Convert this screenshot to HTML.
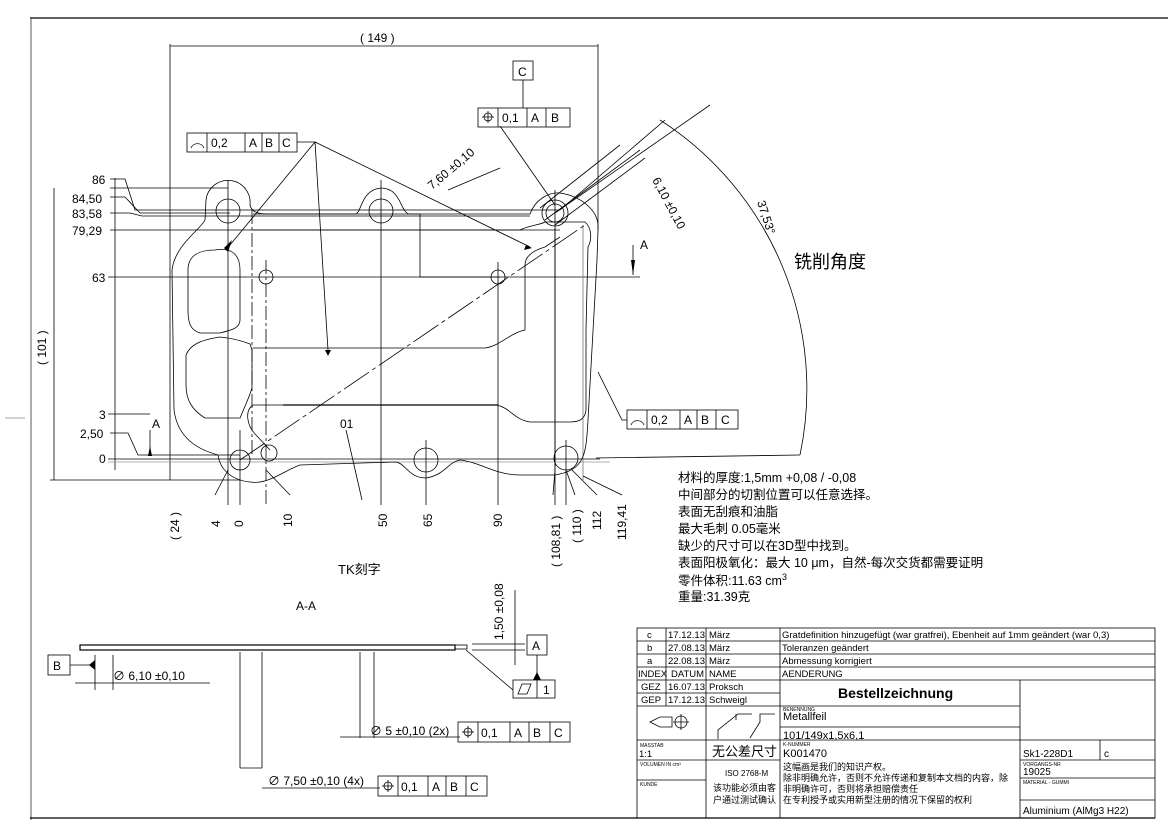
<!DOCTYPE html>
<html><head><meta charset="utf-8"><style>
html,body{margin:0;padding:0;background:#fff;}
svg{display:block;font-family:"Liberation Sans","Noto Sans CJK SC",sans-serif;}
</style></head><body>
<svg width="1168" height="835" viewBox="0 0 1168 835" xmlns="http://www.w3.org/2000/svg">
<g fill="none" stroke="#000" stroke-width="0.8">
<!-- border -->
<line x1="30" y1="18" x2="1168" y2="18" stroke-width="1.2"/>
<line x1="31" y1="19" x2="31" y2="820" stroke="#aaa" stroke-width="2"/>
<line x1="30" y1="818" x2="1155" y2="818" stroke-width="1.2"/>
<line x1="5" y1="418" x2="25" y2="418" stroke="#888"/>

<!-- 149 dim -->
<line x1="170" y1="46" x2="598" y2="46"/>
<line x1="170" y1="44" x2="170" y2="480"/>
<line x1="598" y1="44" x2="598" y2="230"/>
<!-- 101 dim -->
<line x1="54" y1="188" x2="54" y2="480"/>
<line x1="50" y1="480" x2="240" y2="480"/>
<line x1="115" y1="178" x2="115" y2="470"/>
<!-- horizontal reference lines -->
<path d="M110 179 H125 L135 210 H560"/>
<path d="M110 197 H125 L140 213 H230"/>
<path d="M110 213 H130 L142 216 H530"/>
<line x1="110" y1="230" x2="560" y2="230"/>
<line x1="110" y1="188" x2="228" y2="188"/>
<line x1="108" y1="277" x2="640" y2="277"/>
<line x1="108" y1="414" x2="150" y2="414"/>
<path d="M110 433 H128 L138 455 H240"/>
<line x1="108" y1="459" x2="600" y2="459"/>
<line x1="108" y1="462" x2="610" y2="462" stroke="#999"/>
<!-- vertical centerlines -->
<line x1="228" y1="180" x2="228" y2="505"/>
<line x1="240" y1="430" x2="240" y2="505"/>
<line x1="266" y1="260" x2="266" y2="505" stroke-dasharray="14 3 3 3"/>
<line x1="381" y1="180" x2="381" y2="505"/>
<line x1="426" y1="440" x2="426" y2="505"/>
<line x1="498" y1="262" x2="498" y2="505"/>
<line x1="555" y1="190" x2="555" y2="505"/>
<line x1="566" y1="440" x2="566" y2="505"/>
<line x1="252" y1="210" x2="252" y2="455" stroke-dasharray="14 3 3 3"/>
<line x1="555" y1="228" x2="555" y2="470"/>
<line x1="583" y1="225" x2="583" y2="480" stroke="#777"/>
<!-- leaders bottom -->
<path d="M228 470 L215 495"/><path d="M266 470 L290 495"/>
<path d="M566 470 L575 495"/><path d="M572 470 L597 495"/><path d="M583 476 L622 495"/>
<path d="M555 470 L553 495"/>
<!-- step lines -->
<path d="M253 214 H420 V277 H500"/>
<line x1="283" y1="405" x2="498" y2="405" stroke-width="1.2"/>

<!-- part outline -->
<path d="M206 200 A22 22 0 0 1 250 205 C252 214 262 214 270 214 L355 214 C362 214 360 190 381 188 C402 188 400 214 410 214 L530 214 C535 200 548 192 560 193 C580 196 600 210 598 230 L597 260 L588 420 C586 455 585 470 555 475 L520 475 C495 475 480 462 460 460 C448 462 445 475 426 478 C408 478 405 462 395 462 L300 465 C285 470 268 485 250 482 C232 480 220 470 218 455 C200 450 178 440 174 410 L172 270 C175 245 200 230 205 220 Z"/>
<!-- inner pockets -->
<path d="M215 250 C232 247 240 255 240 270 L240 320 C240 328 232 330 220 333 L200 333 C190 330 188 322 188 310 L188 270 C188 255 200 250 215 250 Z"/>
<path d="M220 337 C230 338 240 340 250 344 L252 350 L252 388 C250 395 240 418 240 418 L205 418 C192 410 186 400 186 385 L186 355 C190 345 200 340 220 337 Z"/>
<path d="M253 230 H520 C530 225 540 225 545 222 L585 222 C592 228 592 240 588 247 L586 330 L586 410 C585 420 578 422 570 422 L530 422 C515 420 510 408 497 405"/>
<path d="M253 348 H485 C500 346 510 333 525 330 L525 265 C525 255 535 250 545 247 L560 237"/>
<path d="M253 405 H283 M253 405 C245 410 246 425 256 435 L270 450"/>
<!-- holes -->
<circle cx="228" cy="211" r="12"/><circle cx="381" cy="211" r="12"/><circle cx="555" cy="213" r="13"/><circle cx="555" cy="213" r="9"/>
<circle cx="240" cy="460" r="10"/><circle cx="426" cy="460" r="12"/><circle cx="566" cy="458" r="12"/><circle cx="269" cy="453" r="8"/>
<circle cx="266" cy="277" r="7"/><circle cx="498" cy="277" r="7"/>
<!-- diagonal -->
<line x1="240" y1="460" x2="585" y2="225" stroke-dasharray="30 4 4 4"/>
<line x1="545" y1="220" x2="640" y2="150"/><line x1="555" y1="225" x2="645" y2="158"/>
<line x1="540" y1="208" x2="620" y2="145"/>
<line x1="560" y1="210" x2="665" y2="120"/>
<line x1="555" y1="213" x2="710" y2="105"/>
<!-- arc -->
<path d="M660 120 A320 320 0 0 1 800 455"/>
<line x1="596" y1="458" x2="800" y2="455"/>
<!-- FCF leaders -->
<path d="M297 142 H315 L230 245 M315 142 L328 350 M315 142 L530 247"/>
<path d="M627 420 H622 L598 372"/>
<path d="M523 80 V108 M500 126 L555 205 M448 190 L500 168"/>
<path d="M346 430 L362 500"/>
<path d="M150 430 V455"/>
<path d="M633 245 V275"/>
</g>
<g fill="#000">
<polygon points="148,456 152,456 150,446" />
<polygon points="631,260 635,260 633,275"/>
<polygon points="224,248 232,240 228,252"/>
<polygon points="325,350 331,350 328,356"/>
<polygon points="526,245 532,248 524,250"/>
</g>
<!-- texts -->
<g font-size="12" fill="#000">
<text x="360" y="42">( 149 )</text>
<text x="92" y="184">86</text><text x="72" y="203">84,50</text><text x="72" y="218">83,58</text><text x="72" y="235">79,29</text>
<text x="92" y="282">63</text><text x="99" y="419">3</text><text x="80" y="438">2,50</text><text x="99" y="463">0</text>
<text x="152" y="428">A</text><text x="640" y="249">A</text>
<text x="340" y="428">01</text>
<text transform="translate(46,365) rotate(-90)">( 101 )</text>
<g transform="rotate(-90)">
<text x="-540" y="179">( 24 )</text><text x="-527" y="220">4</text><text x="-527" y="243">0</text>
<text x="-527" y="292">10</text><text x="-527" y="387">50</text><text x="-527" y="432">65</text><text x="-527" y="502">90</text>
<text x="-567" y="560">( 108,81 )</text><text x="-543" y="581">( 110 )</text><text x="-530" y="601">112</text><text x="-540" y="626">119,41</text>
<text x="-640" y="503">1,50 ±0,08</text>
</g>
<text transform="translate(432,190) rotate(-40)">7,60 ±0,10</text>
<text transform="translate(652,180) rotate(62)">6,10 ±0,10</text>
<text transform="translate(757,202) rotate(72)">37,53°</text>
<text x="794" y="268" font-size="18">铣削角度</text>
<text x="338" y="574" font-size="13">TK刻字</text>
<text x="296" y="610">A-A</text>
</g>
<g font-size="12.5" fill="#000">
<text x="678" y="482">材料的厚度:1,5mm +0,08 / -0,08</text>
<text x="678" y="499">中间部分的切割位置可以任意选择。</text>
<text x="678" y="516">表面无刮痕和油脂</text>
<text x="678" y="533">最大毛刺 0.05毫米</text>
<text x="678" y="550">缺少的尺寸可以在3D型中找到。</text>
<text x="678" y="567">表面阳极氧化：最大 10 μm，自然-每次交货都需要证明</text>
<text x="678" y="585">零件体积:11.63 cm<tspan dy="-5" font-size="9">3</tspan></text>
<text x="678" y="601">重量:31.39克</text>
</g>
<!-- FCFs -->
<g fill="none" stroke="#000" stroke-width="0.8">
<rect x="187" y="133" width="110" height="19"/><path d="M207 133V152M245 133V152M262 133V152M279 133V152"/>
<path d="M191 148 A7 7 0 0 1 204 148"/>
<rect x="627" y="410" width="111" height="19"/><path d="M647 410V429M680 410V429M697 410V429M716 410V429"/>
<path d="M631 425 A7 7 0 0 1 644 425"/>
<rect x="513" y="61" width="20" height="19"/>
<rect x="478" y="108" width="92" height="19"/><path d="M498 108V127M527 108V127M546 108V127"/>
<circle cx="488" cy="117" r="4"/><path d="M482 117H494M488 111V123"/>
<!-- A-A section -->
<rect x="80" y="645" width="375" height="5" stroke-width="1.2"/>
<rect x="455" y="645" width="12" height="4"/>
<path d="M472 644H525M472 650H525M515 590V665"/>
<rect x="527" y="635" width="20" height="20"/><path d="M537 655V680"/>
<rect x="513" y="680" width="42" height="18"/><path d="M537 680V698M518 694L522 684H531L527 694Z"/>
<path d="M466 650 L513 690"/>
<rect x="48" y="655" width="22" height="20"/><path d="M70 665H90"/>
<path d="M95 655V690M113 655V690M75 683H210"/>
<path d="M240 652V768M262 652V768M240 768H262"/>
<path d="M360 652V738M374 652V738M340 737H460"/>
<rect x="458" y="722" width="112" height="20"/><path d="M478 722V742M510 722V742M529 722V742M550 722V742"/>
<circle cx="468" cy="732" r="4"/><path d="M462 732H474M468 726V738"/>
<path d="M262 788H380"/>
<rect x="378" y="776" width="109" height="20"/><path d="M398 776V796M428 776V796M446 776V796M466 776V796"/>
<circle cx="388" cy="786" r="4"/><path d="M382 786H394M388 780V792"/>
</g>
<g fill="#000"><polygon points="89,665 95,660 95,670"/><polygon points="533,680 541,680 537,672"/></g>
<g font-size="12" fill="#000">
<text x="211" y="147">0,2</text><text x="249" y="147">A</text><text x="265" y="147">B</text><text x="282" y="147">C</text>
<text x="651" y="424">0,2</text><text x="684" y="424">A</text><text x="701" y="424">B</text><text x="721" y="424">C</text>
<text x="518" y="76">C</text>
<text x="502" y="122">0,1</text><text x="531" y="122">A</text><text x="551" y="122">B</text>
<text x="532" y="650">A</text><text x="543" y="694">1</text>
<text x="53" y="670">B</text>
<text x="113" y="680">∅ 6,10 ±0,10</text>
<text x="370" y="735">∅ 5 ±0,10 (2x)</text>
<text x="481" y="737">0,1</text><text x="514" y="737">A</text><text x="533" y="737">B</text><text x="554" y="737">C</text>
<text x="268" y="785">∅ 7,50 ±0,10 (4x)</text>
<text x="401" y="791">0,1</text><text x="432" y="791">A</text><text x="450" y="791">B</text><text x="470" y="791">C</text>
</g>
<!-- title block -->
<g fill="none" stroke="#000" stroke-width="0.8">
<rect x="637" y="628" width="518" height="190"/>
<path d="M637 641H1155M637 654H1155M637 667H1155M637 680H1155M637 693H780M637 706H1020M780 727H1020M637 740H1155M637 760H780M1020 760H1155M637 780H706M1020 778H1155M1020 800H1155"/>
<path d="M666 628V706M706 628V818M780 628V740M780 700V818M1020 680V818M1100 740V760"/>
</g>
<g font-size="9.5" fill="#000">
<text x="647" y="638">c</text><text x="668" y="638">17.12.13</text><text x="709" y="638">März</text><text x="782" y="638">Gratdefinition hinzugefügt (war gratfrei), Ebenheit auf 1mm geändert (war 0,3)</text>
<text x="647" y="651">b</text><text x="668" y="651">27.08.13</text><text x="709" y="651">März</text><text x="782" y="651">Toleranzen geändert</text>
<text x="647" y="664">a</text><text x="668" y="664">22.08.13</text><text x="709" y="664">März</text><text x="782" y="664">Abmessung korrigiert</text>
<text x="638" y="677">INDEX</text><text x="671" y="677">DATUM</text><text x="709" y="677">NAME</text><text x="782" y="677">AENDERUNG</text>
<text x="641" y="690">GEZ</text><text x="668" y="690">16.07.13</text><text x="709" y="690">Proksch</text>
<text x="641" y="703">GEP</text><text x="668" y="703">17.12.13</text><text x="709" y="703">Schweigl</text>
<text x="838" y="698" font-size="14" font-weight="bold">Bestellzeichnung</text>
<text x="783" y="720" font-size="11">Metallfeil</text>
<text x="783" y="739" font-size="11">101/149x1,5x6,1</text>
<text x="783" y="757" font-size="11">K001470</text>
<text x="639" y="757">1:1</text>
<text x="640" y="747" font-size="5">MASSTAB</text><text x="640" y="766" font-size="5">VOLUMEN IN cm³</text><text x="640" y="786" font-size="5">KUNDE</text>
<text x="783" y="746" font-size="5">K-NUMMER</text><text x="783" y="711" font-size="5">BENENNUNG</text>
<text x="712" y="756" font-size="13">无公差尺寸</text>
<text x="725" y="776" font-size="8">ISO 2768-M</text>
<text x="713" y="791" font-size="9">该功能必须由客</text><text x="713" y="803" font-size="9">户通过测试确认</text>
<text x="783" y="770" font-size="9">这幅画是我们的知识产权。</text>
<text x="783" y="781" font-size="9">除非明确允许，否则不允许传递和复制本文档的内容，除</text>
<text x="783" y="792" font-size="9">非明确许可，否则将承担赔偿责任</text>
<text x="783" y="803" font-size="9">在专利授予或实用新型注册的情况下保留的权利</text>
<text x="1023" y="757" font-size="10">Sk1-228D1</text><text x="1104" y="757" font-size="10">c</text>
<text x="1023" y="775" font-size="10">19025</text>
<text x="1023" y="766" font-size="5">VORGANGS-NR</text><text x="1023" y="784" font-size="5">MATERIAL - GUMMI</text>
<text x="1023" y="814" font-size="10">Aluminium (AlMg3 H22)</text>
</g>
<g fill="none" stroke="#000" stroke-width="0.8">
<path d="M650 722L660 717H672V727H660Z"/><circle cx="681" cy="722" r="6"/><path d="M673 722H689M681 714V730"/>
<path d="M718 739V730L738 714H752M736 714V720"/><path d="M750 738L760 722V714H775"/>
</g>
</svg>
</body></html>
